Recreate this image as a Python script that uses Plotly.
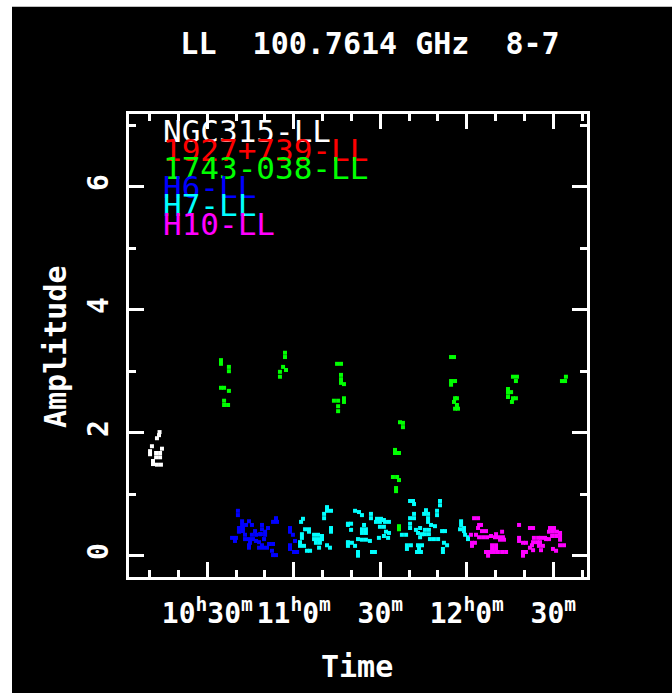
import plotly.graph_objects as go

# ---------------------------------------------------------------------------
# Visibility amplitudes on the LL polarisation, 100.7614 GHz, baseline 8-7.
# Times are UT in decimal hours.
# ---------------------------------------------------------------------------
SOURCES = ["NGC315-LL", "1927+739-LL", "1743-038-LL", "H6-LL", "H7-LL", "H10-LL"]
COLORS = ["#ffffff", "#ff0000", "#00ff00", "#0000ff", "#00ffff", "#ff00ff"]

ngc315_time = [10.224, 10.221, 10.209, 10.180, 10.238, 10.169, 10.169, 10.204,
               10.227, 10.204, 10.227, 10.186, 10.186, 10.209, 10.232]
ngc315_amp = [2.01, 1.96, 1.91, 1.78, 1.74, 1.70, 1.65, 1.67,
              1.67, 1.60, 1.60, 1.54, 1.49, 1.48, 1.48]

q1927_time = []
q1927_amp = []

q1743_time = [10.579, 10.579, 10.625, 10.625, 10.579, 10.597, 10.625, 10.597, 10.597, 10.620,
              10.949, 10.949, 10.938, 10.955, 10.920, 10.920,
              11.250, 11.273, 11.273, 11.273, 11.273, 11.290, 11.290, 11.290, 11.232, 11.256,
              11.256, 11.256,
              11.909, 11.926, 11.909, 11.932, 11.909, 11.932, 11.943, 11.926, 11.943, 11.932,
              11.949,
              11.614, 11.631, 11.631, 11.585, 11.585, 11.608, 11.573, 11.597, 11.608, 11.591,
              11.591, 11.608, 11.608,
              12.267, 12.290, 12.284, 12.238, 12.238, 12.256, 12.238, 12.267, 12.284, 12.261,
              12.573, 12.568, 12.550]
q1743_amp = [3.18, 3.12, 3.07, 3.00, 2.73, 2.73, 2.68, 2.52, 2.45, 2.45,
             3.30, 3.23, 3.07, 3.02, 2.99, 2.91,
             3.12, 3.12, 2.94, 2.87, 2.81, 2.79, 2.56, 2.50, 2.52, 2.52,
             2.43, 2.35,
             3.23, 3.23, 2.84, 2.84, 2.78, 2.56, 2.56, 2.50, 2.45, 2.39,
             2.39,
             2.17, 2.16, 2.09, 1.72, 1.67, 1.67, 1.28, 1.28, 1.23, 1.10,
             1.05, 0.48, 0.43,
             2.91, 2.91, 2.84, 2.71, 2.65, 2.66, 2.58, 2.56, 2.56, 2.50,
             2.91, 2.84, 2.84]

h6_time = [10.677, 10.677, 10.701, 10.701, 10.741, 10.724, 10.758, 10.683, 10.706, 10.683,
           10.706, 10.816, 10.816, 10.897, 10.880, 10.903, 10.851, 10.834, 10.776, 10.643,
           10.666, 10.660, 10.718, 10.718, 10.758, 10.782, 10.805, 10.741, 10.764, 10.782,
           10.747, 10.834, 10.828, 10.799, 10.816, 10.741, 10.741, 10.799, 10.822, 10.845,
           10.857, 10.880, 10.874, 10.880, 10.897, 10.810, 10.978, 10.978, 10.995, 10.978,
           10.978, 11.001, 11.019, 11.007]
h6_amp = [0.73, 0.66, 0.56, 0.50, 0.56, 0.50, 0.50, 0.45, 0.45, 0.39,
          0.40, 0.50, 0.43, 0.61, 0.55, 0.55, 0.45, 0.39, 0.40, 0.29,
          0.29, 0.24, 0.34, 0.27, 0.34, 0.34, 0.35, 0.27, 0.27, 0.24,
          0.21, 0.34, 0.27, 0.22, 0.17, 0.17, 0.13, 0.13, 0.13, 0.13,
          0.19, 0.19, 0.08, 0.01, 0.01, 0.35, 0.45, 0.39, 0.34, 0.17,
          0.11, 0.06, 0.06, 0.24]

h7_time = [11.192, 11.192, 11.215, 11.175, 11.175, 11.053, 11.042, 11.065, 11.088, 11.088,
           11.047, 11.047, 11.036, 11.036, 11.059, 11.117, 11.140, 11.163, 11.117, 11.140,
           11.163, 11.128, 11.151, 11.215, 11.215, 11.192, 11.209, 11.076, 11.094, 11.146,
           11.313, 11.313, 11.354, 11.377, 11.394, 11.313, 11.331, 11.331, 11.406, 11.394,
           11.417, 11.394, 11.417, 11.371, 11.394, 11.417, 11.440, 11.313, 11.336, 11.313,
           11.354, 11.371, 11.371, 11.452, 11.469, 11.492, 11.446, 11.446, 11.481, 11.504,
           11.521, 11.475, 11.498, 11.527, 11.550, 11.498, 11.521, 11.533, 11.550, 11.521,
           11.545, 11.672, 11.689, 11.695, 11.845, 11.845, 11.672, 11.695, 11.695, 11.764,
           11.753, 11.776, 11.776, 11.776, 11.828, 11.828, 11.672, 11.672, 11.706, 11.730,
           11.718, 11.741, 11.758, 11.781, 11.758, 11.781, 11.793, 11.816, 11.857, 11.874,
           11.787, 11.810, 11.834, 11.730, 11.625, 11.649, 11.654, 11.677, 11.654, 11.718,
           11.741, 11.724, 11.712, 11.735, 11.868, 11.886, 11.862, 11.862, 11.967, 11.967,
           11.961, 11.984, 11.984, 11.990, 12.007, 12.007]
h7_amp = [0.79, 0.73, 0.73, 0.68, 0.61, 0.60, 0.55, 0.43, 0.43, 0.39,
          0.35, 0.29, 0.22, 0.16, 0.16, 0.34, 0.34, 0.32, 0.27, 0.27,
          0.27, 0.21, 0.21, 0.45, 0.39, 0.17, 0.13, 0.08, 0.08, 0.13,
          0.50, 0.22, 0.73, 0.71, 0.66, 0.52, 0.52, 0.42, 0.50, 0.43,
          0.43, 0.37, 0.37, 0.27, 0.26, 0.26, 0.24, 0.21, 0.21, 0.16,
          0.16, 0.06, 0.00, 0.06, 0.06, 0.29, 0.68, 0.61, 0.60, 0.60,
          0.58, 0.55, 0.55, 0.55, 0.55, 0.47, 0.47, 0.39, 0.37, 0.32,
          0.29, 0.89, 0.89, 0.84, 0.89, 0.82, 0.61, 0.68, 0.61, 0.74,
          0.68, 0.68, 0.61, 0.55, 0.73, 0.66, 0.52, 0.45, 0.42, 0.45,
          0.37, 0.35, 0.42, 0.42, 0.35, 0.35, 0.50, 0.48, 0.40, 0.40,
          0.27, 0.27, 0.27, 0.30, 0.34, 0.34, 0.17, 0.17, 0.11, 0.17,
          0.17, 0.11, 0.06, 0.06, 0.21, 0.17, 0.11, 0.06, 0.56, 0.50,
          0.43, 0.45, 0.40, 0.34, 0.30, 0.27]

h10_time = [12.042, 12.065, 12.071, 12.082, 12.065, 12.088, 12.111, 12.024, 12.053, 12.071,
            12.094, 12.117, 12.140, 12.163, 12.186, 12.209, 12.169, 12.204, 12.030, 12.047,
            12.030, 12.146, 12.169, 12.146, 12.169, 12.111, 12.134, 12.157, 12.180, 12.204,
            12.227, 12.123, 12.192, 12.215,
            12.302, 12.365, 12.383, 12.481, 12.504, 12.475, 12.498, 12.521, 12.539, 12.493,
            12.516, 12.539, 12.458, 12.475, 12.539, 12.302, 12.302, 12.325, 12.342, 12.388,
            12.412, 12.429, 12.383, 12.406, 12.423, 12.377, 12.417, 12.440, 12.429, 12.365,
            12.383, 12.325, 12.342, 12.325, 12.452, 12.498, 12.516, 12.539, 12.562]
h10_amp = [0.61, 0.61, 0.50, 0.50, 0.45, 0.40, 0.40, 0.34, 0.34, 0.30,
           0.30, 0.30, 0.32, 0.30, 0.30, 0.30, 0.35, 0.39, 0.21, 0.21,
           0.16, 0.17, 0.17, 0.11, 0.11, 0.06, 0.06, 0.06, 0.06, 0.06,
           0.06, 0.00, 0.26, 0.26,
           0.50, 0.45, 0.45, 0.45, 0.45, 0.39, 0.39, 0.39, 0.37, 0.32,
           0.32, 0.32, 0.27, 0.27, 0.26, 0.29, 0.24, 0.21, 0.21, 0.29,
           0.29, 0.29, 0.22, 0.22, 0.22, 0.17, 0.16, 0.16, 0.09, 0.13,
           0.09, 0.06, 0.06, 0.00, 0.29, 0.11, 0.08, 0.17, 0.17]

TIMES = [ngc315_time, q1927_time, q1743_time, h6_time, h7_time, h10_time]
AMPS = [ngc315_amp, q1927_amp, q1743_amp, h6_amp, h7_amp, h10_amp]

TITLE = "LL\u00a0\u00a0100.7614 GHz\u00a0\u00a08-7"
X_TICKS = [10.5, 11.0, 11.5, 12.0, 12.5]
X_TICK_TEXT = ["10<sup>h</sup>30<sup>m</sup>", "11<sup>h</sup>0<sup>m</sup>",
               "30<sup>m</sup>", "12<sup>h</sup>0<sup>m</sup>", "30<sup>m</sup>"]
Y_TICKS = [0, 2, 4, 6]
Y_TICK_TEXT = ["0", "2", "4", "6"]

FONT = "DejaVu Sans Mono"
W, H = 672, 693
ML, MR, MT, MB = 129, 85, 114, 116
PW, PH = W - ML - MR, H - MT - MB


def px_x(px):
    return (px - ML) / PW


def px_y(py):
    return (H - MB - py) / PH


fig = go.Figure()
for name, color, t, a in zip(SOURCES, COLORS, TIMES, AMPS):
    fig.add_trace(go.Scatter(
        x=t, y=a, mode="markers", name=name, showlegend=False,
        marker=dict(symbol="square", size=4, color=color, line=dict(width=0)),
    ))

# stacked, colour-coded source labels in the upper-left corner
for i, (name, color) in enumerate(zip(SOURCES, COLORS)):
    fig.add_annotation(
        xref="paper", yref="paper", x=px_x(161), y=px_y(131.5 + 18.4 * i),
        xanchor="left", yanchor="middle", showarrow=False, text=name,
        font=dict(family=FONT, size=31, color=color),
    )

# axis titles
fig.add_annotation(xref="paper", yref="paper", x=px_x(55), y=px_y(347),
                   xanchor="center", yanchor="middle", showarrow=False,
                   text="Amplitude", textangle=-90,
                   font=dict(family=FONT, size=30, color="white", weight="bold"))
fig.add_annotation(xref="paper", yref="paper", x=px_x(357), y=px_y(666),
                   xanchor="center", yanchor="middle", showarrow=False,
                   text="Time",
                   font=dict(family=FONT, size=30, color="white", weight="bold"))

# black page with a thin white margin on the top and left
fig.add_shape(type="rect", xref="paper", yref="paper", layer="below",
              x0=px_x(12), x1=px_x(W + 5), y0=px_y(H + 5), y1=px_y(6.7),
              fillcolor="black", line=dict(width=0))

axis_common = dict(
    showline=True, linecolor="white", linewidth=3, mirror="allticks",
    ticks="inside", ticklen=15, tickwidth=3, tickcolor="white",
    showgrid=False, zeroline=False,
    tickfont=dict(family=FONT, size=28, color="white", weight="bold"),
)

fig.update_xaxes(
    range=[10.0474, 12.6948], tickmode="array", tickvals=X_TICKS, ticktext=X_TICK_TEXT,
    ticklabelstandoff=9,
    minor=dict(ticks="inside", ticklen=7, tickwidth=3, tickcolor="white",
               tick0=10.5, dtick=1 / 6, showgrid=False),
    **axis_common,
)
fig.update_yaxes(
    range=[-0.3463, 7.182], tickmode="array", tickvals=Y_TICKS, ticktext=Y_TICK_TEXT,
    tickangle=-90, ticklabelstandoff=7,
    minor=dict(ticks="inside", ticklen=7, tickwidth=3, tickcolor="white",
               tick0=0, dtick=1, showgrid=False),
    **axis_common,
)

fig.update_layout(
    width=W, height=H, autosize=False,
    margin=dict(l=ML, r=MR, t=MT, b=MB, pad=0),
    paper_bgcolor="white", plot_bgcolor="black",
    title=dict(text=TITLE, x=370 / W, xanchor="center", y=1 - 43.5 / H, yanchor="middle",
               font=dict(family=FONT, size=30, color="white", weight="bold")),
)

fig.write_html("out.html", config={"displayModeBar": False})
